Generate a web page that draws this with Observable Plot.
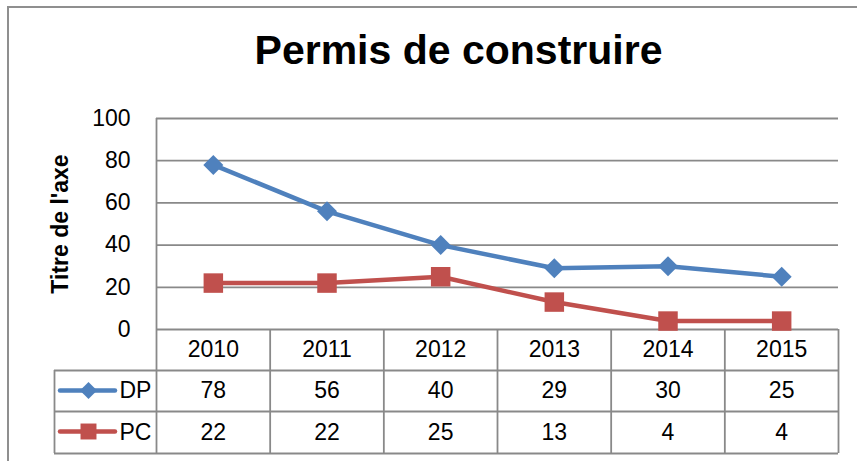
<!DOCTYPE html>
<html>
<head>
<meta charset="utf-8">
<script src="https://cdn.jsdelivr.net/npm/d3@7"></script>
<script src="https://cdn.jsdelivr.net/npm/@observablehq/plot@0.6"></script>
<style>
  html, body { margin: 0; padding: 0; background: #fff; overflow: hidden; }
  #chart { position: absolute; left: 0; top: 0; }
  #border { position: absolute; left: 7px; top: 6px; width: 900px; height: 500px;
            border-left: 2px solid #8f8f8f; border-top: 2px solid #8f8f8f; pointer-events: none; }
</style>
</head>
<body>
<div id="chart"></div>
<div id="border"></div>
<script>
const title = "Permis de construire";
const yAxisTitle = "Titre de l'axe";
const years = ["2010", "2011", "2012", "2013", "2014", "2015"];
const seriesNames = ["DP", "PC"];
const dpValues = [78, 56, 40, 29, 30, 25];
const pcValues = [22, 22, 25, 13, 4, 4];
const yTicks = [0, 20, 40, 60, 80, 100];
const colors = ["#4F81BD", "#C0504D"];

const diamondSym = {
  draw(c, size) {
    const h = Math.sqrt(size) * 0.62625;
    c.moveTo(0, -h); c.lineTo(h, 0); c.lineTo(0, h); c.lineTo(-h, 0); c.closePath();
  }
};
const squareSym = {
  draw(c, size) {
    const s = Math.sqrt(size) / 2;
    c.rect(-s, -s, 2 * s, 2 * s);
  }
};

const seriesValues = [dpValues, pcValues];
const symbols = [diamondSym, squareSym];
const rows = seriesNames.map((name, k) =>
  seriesValues[k].map((v, i) => ({series: name, i, year: years[i], value: v}))
);

const gridColor = "#898989";
const font = "'Liberation Sans', Arial, sans-serif";
const rowH = 41;          // table row height
const headerDy = 20.6;    // year row text offset below y=0
const rowDy = [61.6, 103.6];
const swatchDy = [61, 102];

const marks = [
  // gridlines
  Plot.ruleY(yTicks, {stroke: gridColor, strokeWidth: 1.8}),
  // vertical axis line
  Plot.ruleX([-0.5], {stroke: gridColor, strokeWidth: 1.8}),
  // y tick labels
  Plot.axisY(yTicks, {tickSize: 0, tickPadding: 26, fontSize: 23, fill: "#000", label: null}),
  // y axis title
  Plot.text([yAxisTitle], {frameAnchor: "left", rotate: -90, dx: -96, fontSize: 23, fontWeight: "bold", fill: "#000", lineAnchor: "middle", textAnchor: "middle"}),
  // title
  Plot.text([title], {frameAnchor: "top", lineAnchor: "middle", textAnchor: "middle", dx: -39, dy: -68, fontSize: 41, fontWeight: "bold", fill: "#000"}),

  // data table: vertical lines
  Plot.ruleX(d3.range(years.length + 1).map(i => i - 0.5), {stroke: gridColor, strokeWidth: 1.8, insetTop: 211, insetBottom: -124}),
  // legend cell left line
  Plot.ruleX([-0.5], {dx: -102, stroke: gridColor, strokeWidth: 1.8, insetTop: 211 + rowH, insetBottom: -124}),
  // horizontal table lines
  ...[rowH, 2 * rowH, 124].map(dy =>
    Plot.ruleY([0], {dy, insetLeft: -102, stroke: gridColor, strokeWidth: 1.8})
  ),
  // year header
  Plot.text(years, {x: (d, i) => i, y: () => 0, dy: headerDy, fontSize: 23, fill: "#000"}),
];

rows.forEach((data, k) => {
  // series line + markers
  marks.push(Plot.line(data, {x: "i", y: "value", stroke: colors[k], strokeWidth: 4.5, strokeLinejoin: "round", strokeLinecap: "round"}));
  marks.push(Plot.dot(data, {x: "i", y: "value", symbol: symbols[k], r: k === 0 ? 9 : 11, fill: colors[k], stroke: "none"}));
  // table values
  marks.push(Plot.text(data, {x: "i", y: () => 0, text: d => String(d.value), dy: rowDy[k], fontSize: 23, fill: "#000"}));
  // legend swatch
  marks.push(Plot.ruleY([0], {dy: swatchDy[k], insetLeft: -96, insetRight: 723, stroke: colors[k], strokeWidth: 4.5, strokeLinecap: "round"}));
  marks.push(Plot.dot([seriesNames[k]], {x: () => -0.5, y: () => 0, dx: -68, dy: swatchDy[k], symbol: symbols[k], r: k === 0 ? 7.7 : 9, fill: colors[k], stroke: "none"}));
  marks.push(Plot.text([seriesNames[k]], {x: () => -0.5, y: () => 0, dx: -37, dy: rowDy[k], textAnchor: "start", fontSize: 23, fill: "#000"}));
});

const chart = Plot.plot({
  width: 857,
  height: 461,
  marginLeft: 156,
  marginRight: 19,
  marginTop: 118,
  marginBottom: 132,
  x: {domain: [-0.5, 5.5], axis: null},
  y: {domain: [0, 100], axis: null},
  style: {fontFamily: font, fontSize: "23px", background: "transparent", color: "#000", overflow: "visible"},
  marks
});
document.getElementById("chart").appendChild(chart);
</script>
</body>
</html>
